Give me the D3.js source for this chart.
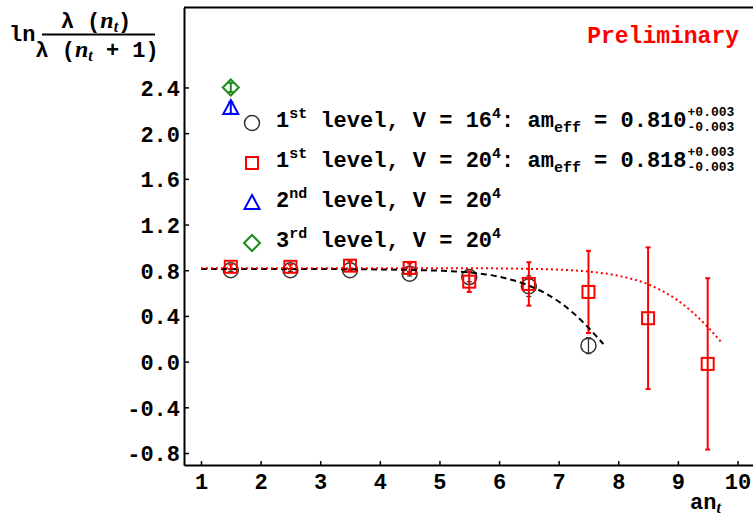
<!DOCTYPE html>
<html>
<head>
<meta charset="utf-8">
<script src="https://cdn.jsdelivr.net/npm/d3@7"></script>
<style>
  body { margin: 0; background: #fff; }
  text { font-family: "Liberation Mono", "Courier New", monospace; font-weight: bold; }
</style>
</head>
<body>
<div id="chart"></div>
<script>
// V = 16^4, first level
const xs16 = [1.5, 2.5, 3.5, 4.5, 5.5, 6.5, 7.5];
const val16 = [0.80, 0.80, 0.80, 0.77, 0.74, 0.66, 0.14];
const err16 = [0.01, 0.01, 0.01, 0.02, 0.04, 0.09, 0.07];

// V = 20^4, first level
const xs20 = [1.5, 2.5, 3.5, 4.5, 5.5, 6.5, 7.5, 8.5, 9.5];
const val20 = [0.83, 0.83, 0.84, 0.82, 0.70, 0.68, 0.61, 0.38, -0.02];
const err20 = [0.02, 0.02, 0.04, 0.04, 0.09, 0.19, 0.36, 0.62, 0.75];

// higher levels, V = 20^4
const xs2nd = [1.5], val2nd = [2.22], err2nd = [0.05];
const xs3rd = [1.5], val3rd = [2.40], err3rd = [0.04];

// fitted curves
const fit16X = [1, 2, 3, 4, 4.5, 5, 5.5, 6, 6.5, 7, 7.25, 7.5, 7.75];
const fit16Y = [0.810, 0.810, 0.810, 0.807, 0.803, 0.796, 0.781, 0.743, 0.666, 0.526, 0.423, 0.297, 0.154];
const fit20X = [1, 2, 3, 4, 5, 6, 6.5, 7, 7.5, 8, 8.5, 9, 9.25, 9.5, 9.72];
const fit20Y = [0.818, 0.818, 0.818, 0.818, 0.818, 0.816, 0.812, 0.805, 0.788, 0.752, 0.677, 0.535, 0.430, 0.303, 0.175];

const xTicks = [1, 2, 3, 4, 5, 6, 7, 8, 9, 10];
const yTicks = [-0.8, -0.4, 0.0, 0.4, 0.8, 1.2, 1.6, 2.0, 2.4];

// legend pieces: [text, shift] shift -1 = superscript, 1 = subscript
const legendLabels = [
  [["1", 0], ["st", -1], [" level, V = 16", 0], ["4", -1], [": am", 0], ["eff", 1], [" = 0.810", 0]],
  [["1", 0], ["st", -1], [" level, V = 20", 0], ["4", -1], [": am", 0], ["eff", 1], [" = 0.818", 0]],
  [["2", 0], ["nd", -1], [" level, V = 20", 0], ["4", -1]],
  [["3", 0], ["rd", -1], [" level, V = 20", 0], ["4", -1]]
];
const legendErrs = [["+0.003", "-0.003"], ["+0.003", "-0.003"], null, null];
const legendMarkers = ["circle", "square", "triangle", "diamond"];

var width = 753, height = 517;
var margin = ({left: 184, right: 0, top: 7.5, bottom: 52});

const color = {circle: "#333333", square: "#ff0000", triangle: "#0000ff", diamond: "#1e8c1e"};

const x = d3.scaleLinear().domain([0.715, 10.26]).range([margin.left, width - margin.right]);
const y = d3.scaleLinear().domain([-0.905, 3.10]).range([height - margin.bottom, margin.top]);

const svg = d3.select("#chart").append("svg")
  .attr("width", width).attr("height", height)
  .attr("viewBox", [0, 0, width, height]);

function marker(g, kind) {
  const c = color[kind];
  if (kind === "circle") {
    g.append("circle").attr("r", 7.5).attr("fill", "none").attr("stroke", c).attr("stroke-width", 1.5);
  } else if (kind === "square") {
    g.append("rect").attr("x", -6).attr("y", -6).attr("width", 12).attr("height", 12)
      .attr("fill", "none").attr("stroke", c).attr("stroke-width", 2);
  } else if (kind === "triangle") {
    g.append("path").attr("d", "M0,-8L7.5,6L-7.5,6Z")
      .attr("fill", "none").attr("stroke", c).attr("stroke-width", 2);
  } else {
    g.append("path").attr("d", "M0,-8L8,0L0,8L-8,0Z")
      .attr("fill", "none").attr("stroke", c).attr("stroke-width", 2);
  }
}

function series(xs, vals, errs, kind) {
  const c = color[kind];
  const data = xs.map((d, i) => ({x: d, v: vals[i], e: errs[i]}));
  const g = svg.append("g");
  const eb = g.selectAll(".eb").data(data).join("g").attr("class", "eb")
    .attr("stroke", c).attr("stroke-width", kind === "circle" ? 1.3 : 2);
  eb.append("line")
    .attr("x1", d => x(d.x)).attr("x2", d => x(d.x))
    .attr("y1", d => y(d.v - d.e)).attr("y2", d => y(d.v + d.e));
  eb.append("line")
    .attr("x1", d => x(d.x) - 2.5).attr("x2", d => x(d.x) + 2.5)
    .attr("y1", d => y(d.v + d.e)).attr("y2", d => y(d.v + d.e));
  eb.append("line")
    .attr("x1", d => x(d.x) - 2.5).attr("x2", d => x(d.x) + 2.5)
    .attr("y1", d => y(d.v - d.e)).attr("y2", d => y(d.v - d.e));
  g.selectAll(".pt").data(data).join("g").attr("class", "pt")
    .attr("transform", d => `translate(${x(d.x)},${y(d.v)})`)
    .each(function() { marker(d3.select(this), kind); });
}

// frame: top line
svg.append("line")
  .attr("x1", margin.left).attr("x2", width).attr("y1", margin.top).attr("y2", margin.top)
  .attr("stroke", "#000").attr("stroke-width", 2);

const line = d3.line().x(d => x(d[0])).y(d => y(d[1])).curve(d3.curveMonotoneX);

series(xs16, val16, err16, "circle");
series(xs20, val20, err20, "square");
series(xs2nd, val2nd, err2nd, "triangle");
series(xs3rd, val3rd, err3rd, "diamond");

svg.append("path")
  .attr("d", line(fit16X.map((d, i) => [d, fit16Y[i]])))
  .attr("fill", "none").attr("stroke", "#000").attr("stroke-width", 2)
  .attr("stroke-dasharray", "6,4");
svg.append("path")
  .attr("d", line(fit20X.map((d, i) => [d, fit20Y[i]])))
  .attr("fill", "none").attr("stroke", "#ff0000").attr("stroke-width", 2)
  .attr("stroke-dasharray", "2,3");

// axes
const xAxis = svg.append("g")
  .attr("transform", `translate(0,${height - margin.bottom})`)
  .call(d3.axisBottom(x).tickValues(xTicks).tickFormat(d3.format("d"))
    .tickSizeInner(-4).tickSizeOuter(0).tickPadding(8));
const yAxis = svg.append("g")
  .attr("transform", `translate(${margin.left},0)`)
  .call(d3.axisLeft(y).tickValues(yTicks).tickFormat(d => d.toFixed(1))
    .tickSizeInner(-5).tickSizeOuter(0).tickPadding(4));
[xAxis, yAxis].forEach(a => {
  a.select(".domain").attr("stroke-width", 2);
  a.selectAll(".tick line").attr("stroke-width", 1.5);
  a.selectAll(".tick text").attr("font-size", 22).attr("font-family", null).attr("fill", "#000");
});
yAxis.selectAll(".tick text").attr("dy", "0.36em");

// legend
const legend = svg.append("g");
legendLabels.forEach((parts, i) => {
  const base = 127 + i * 40;
  const mg = legend.append("g").attr("transform", `translate(252,${base - 4})`);
  marker(mg, legendMarkers[i]);
  const t = legend.append("text").attr("x", 276).attr("y", base).attr("font-size", 22);
  let cur = 0;
  parts.forEach(([s, sh]) => {
    const off = sh === -1 ? -9 : sh === 1 ? 5 : 0;
    t.append("tspan").attr("dy", off - cur).attr("font-size", sh ? 15 : 22).text(s);
    cur = off;
  });
  if (legendErrs[i]) {
    const end = 276 + t.node().getComputedTextLength() + 1;
    legend.append("text").attr("x", end).attr("y", base - 11).attr("font-size", 13).text(legendErrs[i][0]);
    legend.append("text").attr("x", end).attr("y", base + 4).attr("font-size", 13).text(legendErrs[i][1]);
  }
});

// y label: ln lambda(n_t) / lambda(n_t + 1)
svg.append("text").attr("x", 9).attr("y", 41).attr("font-size", 22).text("ln");
const num = svg.append("text").attr("x", 96).attr("y", 28).attr("font-size", 22).attr("text-anchor", "middle");
num.append("tspan").text("λ (");
num.append("tspan").attr("font-family", "Liberation Serif").attr("font-style", "italic").attr("font-size", 24).text("n");
num.append("tspan").attr("font-family", "Liberation Serif").attr("font-style", "italic").attr("font-size", 16).attr("dy", 4).text("t");
num.append("tspan").attr("dy", -4).text(")");
svg.append("line").attr("x1", 42).attr("x2", 155).attr("y1", 34.5).attr("y2", 34.5)
  .attr("stroke", "#000").attr("stroke-width", 2);
const den = svg.append("text").attr("x", 97).attr("y", 57).attr("font-size", 22).attr("text-anchor", "middle");
den.append("tspan").text("λ (");
den.append("tspan").attr("font-family", "Liberation Serif").attr("font-style", "italic").attr("font-size", 24).text("n");
den.append("tspan").attr("font-family", "Liberation Serif").attr("font-style", "italic").attr("font-size", 16).attr("dy", 4).text("t");
den.append("tspan").attr("dy", -4).text(" + 1)");

// x label
const xl = svg.append("text").attr("x", 690).attr("y", 509).attr("font-size", 22);
xl.append("tspan").text("an");
xl.append("tspan").attr("font-family", "Liberation Serif").attr("font-style", "italic").attr("font-size", 16).attr("dy", 4).text("t");

svg.append("text").attr("x", 739).attr("y", 43).attr("font-size", 23)
  .attr("text-anchor", "end").attr("fill", "#ff0000").text("Preliminary");
</script>
</body>
</html>
